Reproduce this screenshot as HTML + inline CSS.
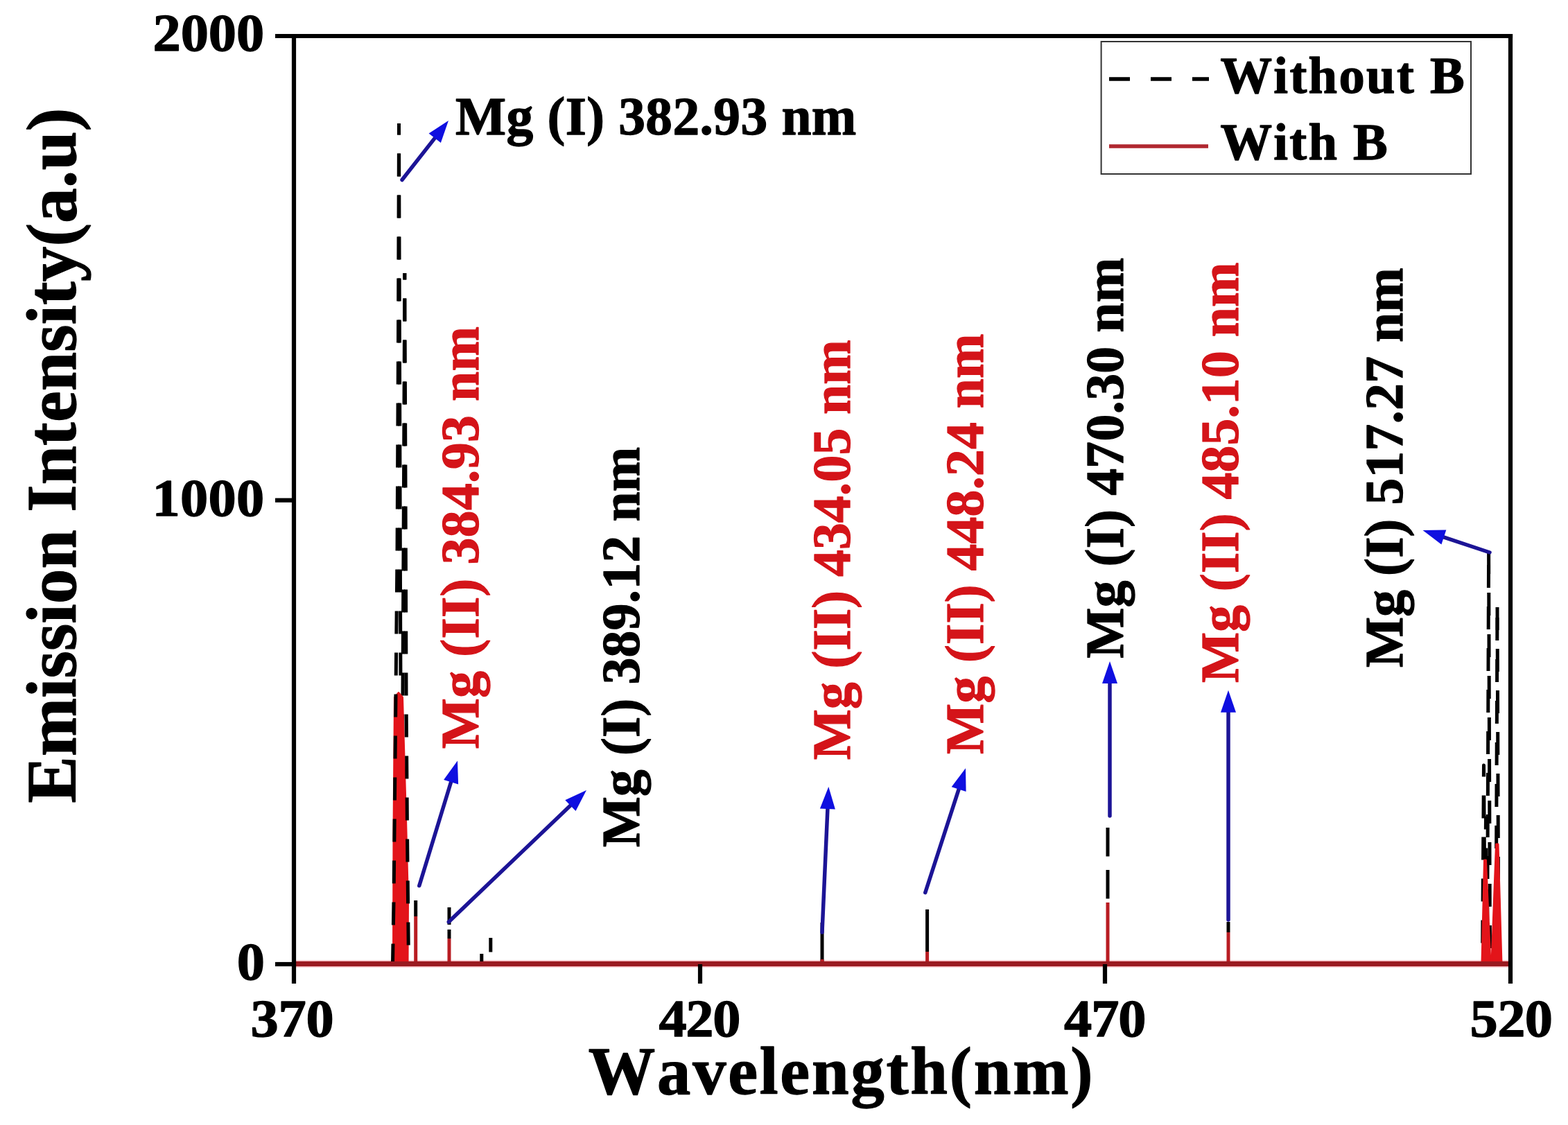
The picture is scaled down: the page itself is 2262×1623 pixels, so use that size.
<!DOCTYPE html>
<html><head><meta charset="utf-8"><title>Emission spectra</title>
<style>
html,body{margin:0;padding:0;background:#fff;overflow:hidden}
svg{display:block;filter:blur(0.6px)}
text{font-kerning:none;font-variant-ligatures:none;stroke-width:1.3px;stroke-linejoin:round}
</style></head><body>
<svg width="2262" height="1623" viewBox="0 0 2262 1623">
<rect width="2262" height="1623" fill="#fff"/>
<polyline points="575.5,178.0 577.0,700.0 578.0,1000.0 579.0,1390.0" fill="none" stroke="#000" stroke-width="5" stroke-dasharray="33 27" stroke-dashoffset="16.5" stroke-linejoin="round"/>
<polyline points="580.0,1390.0 581.0,1000.0 582.5,700.0 583.8,394.0" fill="none" stroke="#000" stroke-width="5" stroke-dasharray="33 27" stroke-dashoffset="33.5" stroke-linejoin="round"/>
<polyline points="2138.5,1390.0 2140.5,1104.0 2142.5,1390.0" fill="none" stroke="#000" stroke-width="5" stroke-dasharray="33 27" stroke-dashoffset="30.5" stroke-linejoin="round"/>
<polyline points="2141.5,1390.0 2143.5,1180.0 2145.5,1390.0" fill="none" stroke="#000" stroke-width="5" stroke-dasharray="33 27" stroke-dashoffset="46.5" stroke-linejoin="round"/>
<polyline points="2145.5,1390.0 2147.6,795.0" fill="none" stroke="#000" stroke-width="5" stroke-dasharray="33 27" stroke-dashoffset="58.0" stroke-linejoin="round"/>
<polyline points="2147.6,795.0 2149.5,1390.0" fill="none" stroke="#000" stroke-width="5" stroke-dasharray="33 27" stroke-dashoffset="0.0" stroke-linejoin="round"/>
<polyline points="2158.0,1390.0 2160.0,876.0" fill="none" stroke="#000" stroke-width="5" stroke-dasharray="33 27" stroke-dashoffset="14.0" stroke-linejoin="round"/>
<polyline points="2160.0,876.0 2162.0,1390.0" fill="none" stroke="#000" stroke-width="5" stroke-dasharray="33 27" stroke-dashoffset="0.0" stroke-linejoin="round"/>
<line x1="427" y1="1390.5" x2="2176" y2="1390.5" stroke="#f4b0b6" stroke-width="10"/>
<polygon points="567,1391 567.5,1200 569,1006 575,999 581,1006 586,1180 589,1300 588.5,1391" fill="#e3141a" stroke="#e3141a" stroke-width="2" stroke-linejoin="round"/>
<polyline points="566.5,1390.0 568.0,1300.0 569.5,1150.0 571.0,1000.0 573.0,800.0 574.5,500.0 575.5,178.0" fill="none" stroke="#000" stroke-width="5" stroke-dasharray="33 27" stroke-dashoffset="4.5" stroke-linejoin="round"/>
<polyline points="583.8,394.0 585.0,700.0 586.0,1000.0 587.5,1200.0 589.5,1390.0" fill="none" stroke="#000" stroke-width="5" stroke-dasharray="33 27" stroke-dashoffset="23.5" stroke-linejoin="round"/>
<polygon points="2138.0,1390.0 2141.5,1241.0 2143.5,1241.0 2150.0,1390.0" fill="#e3141a" stroke="#e3141a" stroke-width="3" stroke-linejoin="round"/>
<polygon points="2152.0,1390.0 2158.5,1218.0 2161.0,1218.0 2166.0,1390.0" fill="#e3141a" stroke="#e3141a" stroke-width="3" stroke-linejoin="round"/>
<line x1="599.7" y1="1299" x2="599.7" y2="1322" stroke="#000" stroke-width="5" stroke-linecap="butt"/>
<line x1="599.7" y1="1322" x2="599.7" y2="1390" stroke="#b81c22" stroke-width="5" stroke-linecap="butt"/>
<line x1="648" y1="1309" x2="648" y2="1334" stroke="#000" stroke-width="5" stroke-linecap="butt"/>
<line x1="648" y1="1341" x2="648" y2="1354" stroke="#000" stroke-width="5" stroke-linecap="butt"/>
<line x1="648" y1="1354" x2="648" y2="1390" stroke="#b81c22" stroke-width="5" stroke-linecap="butt"/>
<line x1="694.8" y1="1376" x2="694.8" y2="1390" stroke="#000" stroke-width="5" stroke-linecap="butt"/>
<line x1="707.8" y1="1353" x2="707.8" y2="1373.5" stroke="#000" stroke-width="5" stroke-linecap="butt"/>
<line x1="1186" y1="1331" x2="1186" y2="1388" stroke="#000" stroke-width="5" stroke-linecap="butt"/>
<line x1="1186" y1="1384" x2="1186" y2="1390" stroke="#b81c22" stroke-width="5" stroke-linecap="butt"/>
<line x1="1337.6" y1="1312" x2="1337.6" y2="1373" stroke="#000" stroke-width="5" stroke-linecap="butt"/>
<line x1="1337.6" y1="1373" x2="1337.6" y2="1390" stroke="#b81c22" stroke-width="5" stroke-linecap="butt"/>
<line x1="1598" y1="1194" x2="1598" y2="1235.5" stroke="#000" stroke-width="5" stroke-linecap="butt"/>
<line x1="1598" y1="1255" x2="1598" y2="1296.5" stroke="#000" stroke-width="5" stroke-linecap="butt"/>
<line x1="1598" y1="1302" x2="1598" y2="1390" stroke="#b81c22" stroke-width="5" stroke-linecap="butt"/>
<line x1="1772" y1="1330" x2="1772" y2="1345" stroke="#000" stroke-width="5" stroke-linecap="butt"/>
<line x1="1772" y1="1345" x2="1772" y2="1390" stroke="#b81c22" stroke-width="5" stroke-linecap="butt"/>
<line x1="427" y1="1390.5" x2="2176" y2="1390.5" stroke="#9a1a20" stroke-width="7"/>
<line x1="580.0" y1="259.5" x2="628.5" y2="197.6" stroke="#1c1496" stroke-width="5.5" stroke-linecap="round"/><polygon points="647.0,174.0 635.9,206.0 618.6,192.4" fill="#0f0fe0"/>
<line x1="604.8" y1="1277.8" x2="651.2" y2="1126.3" stroke="#1c1496" stroke-width="5.5" stroke-linecap="round"/><polygon points="660.0,1097.6 661.1,1131.4 640.1,1125.0" fill="#0f0fe0"/>
<line x1="647.3" y1="1330.0" x2="824.3" y2="1160.7" stroke="#1c1496" stroke-width="5.5" stroke-linecap="round"/><polygon points="846.0,1140.0 830.5,1170.1 815.3,1154.2" fill="#0f0fe0"/>
<line x1="1186.0" y1="1345.0" x2="1194.0" y2="1165.0" stroke="#1c1496" stroke-width="5.5" stroke-linecap="round"/><polygon points="1195.3,1135.0 1204.9,1167.5 1182.9,1166.5" fill="#0f0fe0"/>
<line x1="1334.8" y1="1287.6" x2="1383.7" y2="1136.8" stroke="#1c1496" stroke-width="5.5" stroke-linecap="round"/><polygon points="1393.0,1108.3 1393.6,1142.1 1372.7,1135.3" fill="#0f0fe0"/>
<line x1="1601.0" y1="1177.0" x2="1601.0" y2="984.0" stroke="#1c1496" stroke-width="5.5" stroke-linecap="round"/><polygon points="1601.0,954.0 1612.0,986.0 1590.0,986.0" fill="#0f0fe0"/>
<line x1="1772.0" y1="1327.0" x2="1772.0" y2="1025.7" stroke="#1c1496" stroke-width="5.5" stroke-linecap="round"/><polygon points="1772.0,995.7 1783.0,1027.7 1761.0,1027.7" fill="#0f0fe0"/>
<line x1="2149.0" y1="797.0" x2="2081.0" y2="774.4" stroke="#1c1496" stroke-width="5.5" stroke-linecap="round"/><polygon points="2052.5,765.0 2086.3,764.6 2079.4,785.5" fill="#0f0fe0"/>
<g stroke="#000" stroke-width="6.2" fill="none" stroke-linecap="butt">
<line x1="397" y1="52" x2="2182.1" y2="52"/>
<line x1="424" y1="48.9" x2="424" y2="1419"/>
<line x1="2179" y1="48.9" x2="2179" y2="1419"/>
<line x1="397" y1="721.7" x2="424" y2="721.7"/>
<line x1="397" y1="1391" x2="424" y2="1391"/>
<line x1="1010" y1="1391" x2="1010" y2="1419"/>
<line x1="1594" y1="1391" x2="1594" y2="1419"/>
</g>
<rect x="1588.6" y="60" width="533.4" height="191" fill="#fff" stroke="#333" stroke-width="2"/>
<line x1="1600" y1="114" x2="1744" y2="114" stroke="#000" stroke-width="5.5" stroke-dasharray="30 30"/>
<line x1="1600" y1="211" x2="1743" y2="211" stroke="#b0272f" stroke-width="5.5"/>
<g font-family="&quot;Liberation Serif&quot;, &quot;Times New Roman&quot;, serif" font-weight="bold">
<text transform="scale(1.07,1)" x="206.09 243.64 281.18 318.72" y="73.29" font-size="75.20" fill="#000000" stroke="#000000">2000</text>
<text transform="scale(1.07,1)" x="205.19 243.04 280.88 318.72" y="743.89" font-size="75.20" fill="#000000" stroke="#000000">1000</text>
<text transform="scale(1.07,1)" x="319.38" y="1413.19" font-size="75.20" fill="#000000" stroke="#000000">0</text>
<text transform="scale(1.07,1)" x="337.83 375.28 412.74" y="1495.49" font-size="75.20" fill="#000000" stroke="#000000">370</text>
<text transform="scale(1.07,1)" x="888.32 924.64 960.96" y="1495.24" font-size="75.20" fill="#000000" stroke="#000000">420</text>
<text transform="scale(1.07,1)" x="1434.67 1471.23 1507.79" y="1495.39" font-size="75.20" fill="#000000" stroke="#000000">470</text>
<text transform="scale(1.07,1)" x="1981.76 2018.84 2055.92" y="1495.04" font-size="75.20" fill="#000000" stroke="#000000">520</text>
<text x="848.83" y="1578.30" font-size="96.52" fill="#000000" stroke="#000000" textLength="727.61" lengthAdjust="spacing">Wavelength(nm)</text>
<text transform="translate(108.50,1158.53) rotate(-90)" x="0" y="0" font-size="101.00" fill="#000000" stroke="#000000" textLength="1002.96" lengthAdjust="spacing">Emission Intensity(a.u)</text>
<text x="657.08" y="194.04" font-size="77.40" fill="#000000" stroke="#000000" textLength="578.25" lengthAdjust="spacing">Mg (I) 382.93 nm</text>
<text x="1760.44" y="134.47" font-size="74.60" fill="#000000" stroke="#000000" textLength="352.43" lengthAdjust="spacing">Without B</text>
<text x="1760.44" y="230.32" font-size="74.60" fill="#000000" stroke="#000000" textLength="241.43" lengthAdjust="spacing">With B</text>
<text transform="translate(690.44,1080.32) rotate(-90)" x="0" y="0" font-size="77.40" fill="#d41419" stroke="#d41419" textLength="609.35" lengthAdjust="spacing">Mg (II) 384.93 nm</text>
<text transform="translate(921.79,1222.32) rotate(-90)" x="0" y="0" font-size="77.40" fill="#000000" stroke="#000000" textLength="577.65" lengthAdjust="spacing">Mg (I) 389.12 nm</text>
<text transform="translate(1226.49,1096.32) rotate(-90)" x="0" y="0" font-size="77.40" fill="#d41419" stroke="#d41419" textLength="606.05" lengthAdjust="spacing">Mg (II) 434.05 nm</text>
<text transform="translate(1418.04,1087.92) rotate(-90)" x="0" y="0" font-size="77.40" fill="#d41419" stroke="#d41419" textLength="606.35" lengthAdjust="spacing">Mg (II) 448.24 nm</text>
<text transform="translate(1620.19,949.72) rotate(-90)" x="0" y="0" font-size="77.40" fill="#000000" stroke="#000000" textLength="577.85" lengthAdjust="spacing">Mg (I) 470.30 nm</text>
<text transform="translate(1785.89,985.12) rotate(-90)" x="0" y="0" font-size="77.40" fill="#d41419" stroke="#d41419" textLength="606.65" lengthAdjust="spacing">Mg (II) 485.10 nm</text>
<text transform="translate(2022.94,963.02) rotate(-90)" x="0" y="0" font-size="77.40" fill="#000000" stroke="#000000" textLength="576.75" lengthAdjust="spacing">Mg (I) 517.27 nm</text>
</g>
</svg>
</body></html>
